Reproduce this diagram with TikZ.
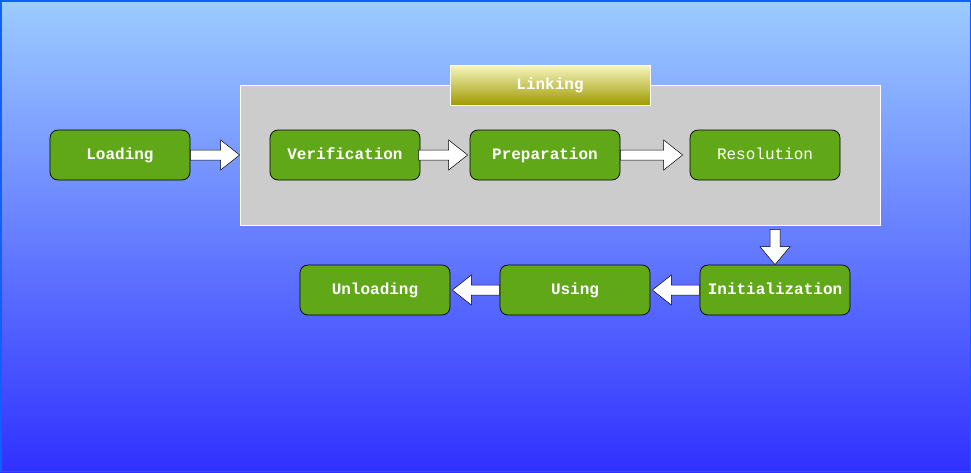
\documentclass[tikz,border=0pt]{standalone}
\usepackage{fontspec}
\setmonofont{Liberation Mono}
\usetikzlibrary{calc}
\definecolor{bgtop}{RGB}{156,204,255}
\definecolor{bgmid}{RGB}{112,144,255}
\definecolor{bgbot}{RGB}{48,48,255}
\definecolor{bgborder}{RGB}{16,96,255}
\definecolor{stepgreen}{RGB}{96,168,24}
\definecolor{linkgrey}{RGB}{204,204,204}
\definecolor{labtop}{RGB}{246,246,192}
\definecolor{labbot}{RGB}{160,154,0}
\tikzset{
  stepbox/.style={draw=black, line width=0.7pt, fill=stepgreen, rounded corners=8pt,
    minimum width=150pt, minimum height=50pt, inner sep=0pt, text=white,
    text height=11pt, text depth=3pt,
    font=\ttfamily\bfseries\fontsize{16}{18}\selectfont},
  plainbox/.style={stepbox, font=\ttfamily\fontsize{16}{18}\selectfont},
  barrow/.style={draw=black, line width=0.5pt, fill=white, line join=miter},
}
\newcommand\rarrow[2]{\draw[barrow] let \p1=(#1), \p2=(#2) in
  (\x1,\y1+5pt) -- (\x2-19pt,\y1+5pt) -- (\x2-19pt,\y1+15pt) -- (\x2,\y1)
  -- (\x2-19pt,\y1-15pt) -- (\x2-19pt,\y1-5pt) -- (\x1,\y1-5pt) -- cycle;}
\newcommand\larrow[2]{\draw[barrow] let \p1=(#1), \p2=(#2) in
  (\x1,\y1+5pt) -- (\x2+19pt,\y1+5pt) -- (\x2+19pt,\y1+15pt) -- (\x2,\y1)
  -- (\x2+19pt,\y1-15pt) -- (\x2+19pt,\y1-5pt) -- (\x1,\y1-5pt) -- cycle;}
\newcommand\darrow[2]{\draw[barrow] let \p1=(#1), \p2=(#2) in
  (\x1+5pt,\y1) -- (\x1+5pt,\y2+18pt) -- (\x1+15pt,\y2+18pt) -- (\x1,\y2)
  -- (\x1-15pt,\y2+18pt) -- (\x1-5pt,\y2+18pt) -- (\x1-5pt,\y1) -- cycle;}
\begin{document}
\begin{tikzpicture}[x=1pt,y=-1pt]
\useasboundingbox (0,0) rectangle (971,472);
\shade[top color=bgtop, middle color=bgmid, bottom color=bgbot] (0,0) rectangle (971,472);
\draw[bgborder, line width=1.5pt] (0.75,0.75) rectangle (970.25,471.25);
% linking group
\node[draw=white, line width=0.8pt, fill=linkgrey, minimum width=640pt, minimum height=140pt, inner sep=0pt] (link) at (560,155) {};
\node[draw=white, line width=0.8pt, top color=labtop, bottom color=labbot, minimum width=200pt, minimum height=40pt, inner sep=0pt, text=white, text height=11pt, text depth=3pt, font=\ttfamily\bfseries\fontsize{16}{18}\selectfont] (linklab) at (550,85) {Linking};
% steps
\node[stepbox, minimum width=140pt] (load) at (120,155) {Loading};
\node[stepbox] (verif) at (345,155) {Verification};
\node[stepbox] (prep) at (545,155) {Preparation};
\node[plainbox] (res) at (765,155) {Resolution};
\node[stepbox] (init) at (775,290) {Initialization};
\node[stepbox] (using) at (575,290) {Using};
\node[stepbox] (unload) at (375,290) {Unloading};
% arrows
\rarrow{load.east}{link.west}
\rarrow{[xshift=-2pt]verif.east}{[xshift=-2pt]prep.west}
\rarrow{prep.east}{[xshift=-7pt]res.west}
\coordinate (dstart) at ([yshift=-4pt]init.north |- link.south);
\darrow{dstart}{init.north}
\larrow{init.west}{[xshift=2pt]using.east}
\larrow{using.west}{[xshift=2pt]unload.east}
\end{tikzpicture}
\end{document}
